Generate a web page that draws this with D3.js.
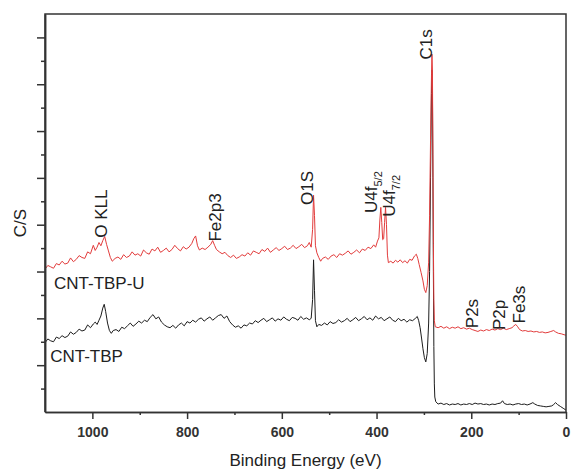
<!DOCTYPE html>
<html>
<head>
<meta charset="utf-8">
<script src="https://cdn.jsdelivr.net/npm/d3@7"></script>
<style>
  body { margin: 0; background: #fff; }
  svg { display: block; font-family: "Liberation Sans", Arial, sans-serif; }
  .axis path, .axis line { stroke: #333; stroke-width: 1.5; }
  .axis text { fill: #333; font-size: 14px; font-weight: bold; font-family: "Liberation Sans", Arial, sans-serif; }
  .lbl { fill: #222; font-size: 17px; }
</style>
</head>
<body>
<svg width="571" height="471"></svg>
<script>
// binding energy (eV), intensity in major-tick units (axis has no numbers)
var tbpU = [
  [1100, 3.05], [1094, 3.13], [1088, 3.10], [1082, 3.07], [1076, 3.17], [1070, 3.14], [1064, 3.22],
  [1058, 3.16], [1052, 3.18], [1046, 3.29], [1040, 3.21], [1034, 3.26], [1028, 3.34], [1022, 3.30],
  [1016, 3.28], [1010, 3.42], [1004, 3.38], [998, 3.56], [994, 3.45], [990, 3.52], [986, 3.62],
  [982, 3.55], [978, 3.66], [974, 3.75], [970, 3.58], [966, 3.44], [962, 3.30], [958, 3.22],
  [952, 3.28], [946, 3.31], [940, 3.26], [934, 3.36], [928, 3.30], [922, 3.33], [916, 3.42],
  [910, 3.35], [904, 3.38], [898, 3.33], [892, 3.46], [886, 3.40], [880, 3.37], [874, 3.48],
  [868, 3.44], [862, 3.52], [856, 3.41], [850, 3.45], [844, 3.50], [838, 3.42], [832, 3.47],
  [826, 3.56], [820, 3.49], [814, 3.44], [808, 3.53], [802, 3.48], [796, 3.52], [790, 3.60],
  [786, 3.70], [782, 3.76], [778, 3.55], [774, 3.46], [768, 3.50], [762, 3.47], [756, 3.52],
  [750, 3.58], [746, 3.66], [742, 3.56], [738, 3.47], [732, 3.42], [726, 3.38], [720, 3.41],
  [714, 3.34], [708, 3.30], [702, 3.35], [696, 3.28], [690, 3.31], [684, 3.36], [678, 3.33],
  [672, 3.40], [666, 3.35], [660, 3.44], [654, 3.41], [648, 3.38], [642, 3.47], [636, 3.43],
  [630, 3.50], [624, 3.41], [618, 3.46], [612, 3.51], [606, 3.45], [600, 3.49], [594, 3.54],
  [588, 3.47], [582, 3.50], [576, 3.56], [570, 3.49], [564, 3.53], [558, 3.58], [552, 3.51],
  [546, 3.55], [542, 3.62], [538, 3.52], [535, 3.90], [533, 4.63], [531, 4.20], [529, 3.55],
  [526, 3.40], [522, 3.30], [518, 3.22], [514, 3.28], [508, 3.31], [502, 3.26], [496, 3.33],
  [490, 3.36], [484, 3.30], [478, 3.38], [472, 3.35], [466, 3.39], [460, 3.44], [454, 3.37],
  [448, 3.41], [442, 3.46], [436, 3.40], [430, 3.48], [424, 3.45], [418, 3.52], [412, 3.49],
  [406, 3.57], [402, 3.52], [398, 3.65], [395, 3.72], [393, 4.10], [391, 4.37], [389, 4.05],
  [387, 3.68], [385, 3.70], [383, 4.05], [381, 4.37], [379, 4.00], [377, 3.35], [375, 3.19],
  [370, 3.22], [365, 3.18], [360, 3.24], [355, 3.20], [350, 3.25], [345, 3.19], [340, 3.23],
  [335, 3.18], [330, 3.26], [325, 3.24], [320, 3.33], [316, 3.37], [313, 3.28], [310, 3.15],
  [306, 2.98], [302, 2.80], [299, 2.62], [296, 2.55], [293, 2.70], [290, 3.20], [288, 4.20],
  [286, 5.80], [284, 7.20], [283, 7.64], [282, 7.30], [281, 5.50], [280, 3.60], [279, 2.40],
  [278, 1.95], [276, 1.82], [270, 1.80], [264, 1.83], [258, 1.79], [252, 1.82], [246, 1.78],
  [240, 1.81], [234, 1.79], [228, 1.82], [222, 1.78], [216, 1.80], [210, 1.77], [204, 1.79],
  [198, 1.76], [192, 1.74], [186, 1.72], [180, 1.75], [174, 1.73], [168, 1.76], [162, 1.74],
  [156, 1.77], [150, 1.75], [144, 1.78], [138, 1.76], [132, 1.79], [126, 1.76], [120, 1.78],
  [114, 1.80], [110, 1.84], [106, 1.87], [102, 1.82], [98, 1.76], [92, 1.73], [86, 1.74],
  [80, 1.72], [74, 1.73], [68, 1.71], [62, 1.72], [56, 1.70], [50, 1.71], [44, 1.69],
  [38, 1.70], [32, 1.72], [26, 1.74], [22, 1.71], [16, 1.68], [10, 1.67], [4, 1.65], [0, 1.64]
]

var tbp = [
  [1100, 1.48], [1094, 1.56], [1088, 1.52], [1082, 1.50], [1076, 1.60], [1070, 1.57], [1064, 1.63],
  [1058, 1.59], [1052, 1.62], [1046, 1.71], [1040, 1.66], [1034, 1.70], [1028, 1.77], [1022, 1.73],
  [1016, 1.75], [1010, 1.86], [1004, 1.80], [998, 1.88], [994, 1.92], [990, 1.87], [986, 1.96],
  [982, 2.05], [978, 2.22], [975, 2.30], [972, 2.15], [968, 1.90], [964, 1.74], [960, 1.68],
  [956, 1.74], [950, 1.76], [944, 1.72], [938, 1.81], [932, 1.78], [926, 1.84], [920, 1.90],
  [914, 1.83], [908, 1.88], [902, 1.94], [896, 1.90], [890, 1.96], [884, 1.93], [878, 2.02],
  [872, 2.08], [866, 1.99], [860, 2.03], [854, 1.92], [848, 1.86], [842, 1.82], [836, 1.80],
  [830, 1.85], [824, 1.79], [818, 1.86], [812, 1.90], [806, 1.84], [800, 1.93], [794, 1.90],
  [788, 1.96], [782, 1.92], [776, 1.98], [770, 2.01], [764, 1.94], [758, 1.99], [752, 2.03],
  [746, 1.96], [740, 2.01], [734, 2.06], [728, 2.08], [722, 2.00], [716, 2.05], [710, 1.93],
  [704, 1.86], [698, 1.81], [692, 1.84], [686, 1.79], [680, 1.86], [674, 1.84], [668, 1.90],
  [662, 1.88], [656, 1.95], [650, 1.91], [644, 1.96], [638, 2.00], [632, 1.93], [626, 1.97],
  [620, 2.01], [614, 1.94], [608, 1.99], [602, 1.96], [596, 2.03], [590, 1.98], [584, 1.95],
  [578, 2.02], [572, 2.00], [566, 1.96], [560, 2.04], [554, 1.98], [548, 2.01], [542, 1.97],
  [538, 2.00], [535, 2.40], [533, 3.25], [531, 2.60], [529, 1.95], [526, 1.82], [522, 1.87],
  [516, 1.85], [510, 1.90], [504, 1.86], [498, 1.93], [492, 1.89], [486, 1.91], [480, 1.97],
  [474, 1.92], [468, 1.95], [462, 2.00], [456, 1.93], [450, 1.97], [444, 2.02], [438, 1.95],
  [432, 1.99], [426, 2.04], [420, 1.97], [414, 2.01], [408, 1.96], [402, 2.05], [396, 1.99],
  [390, 2.02], [384, 1.95], [378, 1.99], [372, 2.03], [366, 1.96], [360, 1.93], [354, 2.00],
  [348, 1.95], [342, 1.98], [336, 1.92], [330, 1.97], [324, 1.95], [318, 2.00], [314, 2.04],
  [311, 1.95], [308, 1.80], [305, 1.58], [302, 1.35], [299, 1.16], [296, 1.07], [293, 1.25],
  [290, 1.90], [288, 3.00], [286, 5.00], [284, 6.80], [283, 7.30], [282, 6.90], [281, 5.00],
  [280, 3.00], [279, 1.40], [278, 0.60], [277, 0.32], [275, 0.22], [270, 0.17], [264, 0.19],
  [258, 0.16], [252, 0.18], [246, 0.15], [240, 0.17], [234, 0.16], [228, 0.18], [222, 0.15],
  [216, 0.17], [210, 0.16], [204, 0.18], [198, 0.16], [192, 0.19], [186, 0.17], [180, 0.18],
  [174, 0.16], [168, 0.17], [162, 0.15], [156, 0.17], [150, 0.16], [144, 0.18], [138, 0.19],
  [134, 0.24], [130, 0.18], [124, 0.16], [118, 0.17], [112, 0.15], [106, 0.17], [100, 0.18],
  [94, 0.16], [88, 0.17], [82, 0.15], [76, 0.17], [70, 0.20], [66, 0.17], [60, 0.14],
  [54, 0.13], [48, 0.12], [42, 0.11], [36, 0.12], [30, 0.13], [26, 0.16], [22, 0.20],
  [18, 0.16], [12, 0.12], [6, 0.08], [0, 0.04]
]

var xMajor = [1000, 800, 600, 400, 200, 0]
var xMinor = [900, 700, 500, 300, 100]
var yMajor = [1, 2, 3, 4, 5, 6, 7, 8]
var yMinor = [0.5, 1.5, 2.5, 3.5, 4.5, 5.5, 6.5, 7.5]

// peak name, subscript, anchor energy, anchor intensity
var peaks = [
  ['O KLL', '', 969, 3.72],
  ['Fe2p3', '', 728, 3.64],
  ['O1S', '', 534, 4.42],
  ['U4f', '5/2', 400, 4.25],
  ['U4f', '7/2', 361, 4.17],
  ['C1s', '', 283, 7.53],
  ['P2s', '', 186, 1.79],
  ['P2p', '', 129, 1.75],
  ['Fe3s', '', 87, 1.89]
]

// sample name, anchor energy, anchor intensity
var samples = [
  ['CNT-TBP-U', 1081, 2.63],
  ['CNT-TBP', 1089, 1.07]
]

var margin = {top: 14, right: 5, bottom: 59, left: 45}
var width = 571 - margin.left - margin.right
var height = 471 - margin.top - margin.bottom

var x = d3.scaleLinear().domain([1100, 0]).range([0, width])
var y = d3.scaleLinear().domain([0, 8.5]).range([height, 0])

var svg = d3.select('svg')
var group = svg.append('g')
  .attr('transform', 'translate(' + margin.left + ',' + margin.top + ')')

var line = d3.line()
  .x(function (d) { return x(d[0]) })
  .y(function (d) { return y(d[1]) })

group.append('path')
  .datum(tbp)
  .attr('fill', 'none')
  .attr('stroke', '#1c1c1c')
  .attr('stroke-width', 1)
  .attr('d', line)

group.append('path')
  .datum(tbpU)
  .attr('fill', 'none')
  .attr('stroke', '#e23b3b')
  .attr('stroke-width', 1)
  .attr('d', line)

// frame
group.append('path')
  .attr('fill', 'none')
  .attr('stroke', '#333')
  .attr('stroke-width', 1.5)
  .attr('d', 'M0,' + height + 'V0H' + width + 'V' + height)

group.append('g')
  .attr('class', 'axis')
  .attr('transform', 'translate(0,' + height + ')')
  .call(d3.axisBottom(x).tickValues(xMinor).tickSize(3).tickFormat('').tickSizeOuter(0))

group.append('g')
  .attr('class', 'axis')
  .attr('transform', 'translate(0,' + height + ')')
  .call(d3.axisBottom(x).tickValues(xMajor).tickSize(7).tickPadding(8).tickSizeOuter(0)
    .tickFormat(d3.format('d')))

group.append('g')
  .attr('class', 'axis')
  .call(d3.axisLeft(y).tickValues(yMinor).tickSize(4).tickFormat('').tickSizeOuter(0))

group.append('g')
  .attr('class', 'axis')
  .call(d3.axisLeft(y).tickValues(yMajor).tickSize(8).tickFormat('').tickSizeOuter(0))

var peakText = group.selectAll('.peak')
  .data(peaks)
  .enter()
  .append('text')
  .attr('class', 'lbl peak')
  .attr('transform', function (d) {
    return 'translate(' + x(d[2]) + ',' + y(d[3]) + ') rotate(-90)'
  })

peakText.append('tspan').text(function (d) { return d[0] })
peakText.filter(function (d) { return d[1] })
  .append('tspan')
  .attr('dy', 5)
  .attr('font-size', 11)
  .text(function (d) { return d[1] })

group.selectAll('.sample')
  .data(samples)
  .enter()
  .append('text')
  .attr('class', 'lbl sample')
  .attr('font-size', 18)
  .attr('x', function (d) { return x(d[1]) })
  .attr('y', function (d) { return y(d[2]) })
  .text(function (d) { return d[0] })

group.append('text')
  .attr('class', 'lbl')
  .attr('font-size', 17)
  .attr('text-anchor', 'middle')
  .attr('x', width / 2)
  .attr('y', height + 54)
  .text('Binding Energy (eV)')

group.append('text')
  .attr('class', 'lbl')
  .attr('font-size', 17)
  .attr('text-anchor', 'middle')
  .attr('transform', 'translate(-19,' + (height / 2 + 10) + ') rotate(-90)')
  .text('C/S')
</script>
</body>
</html>
